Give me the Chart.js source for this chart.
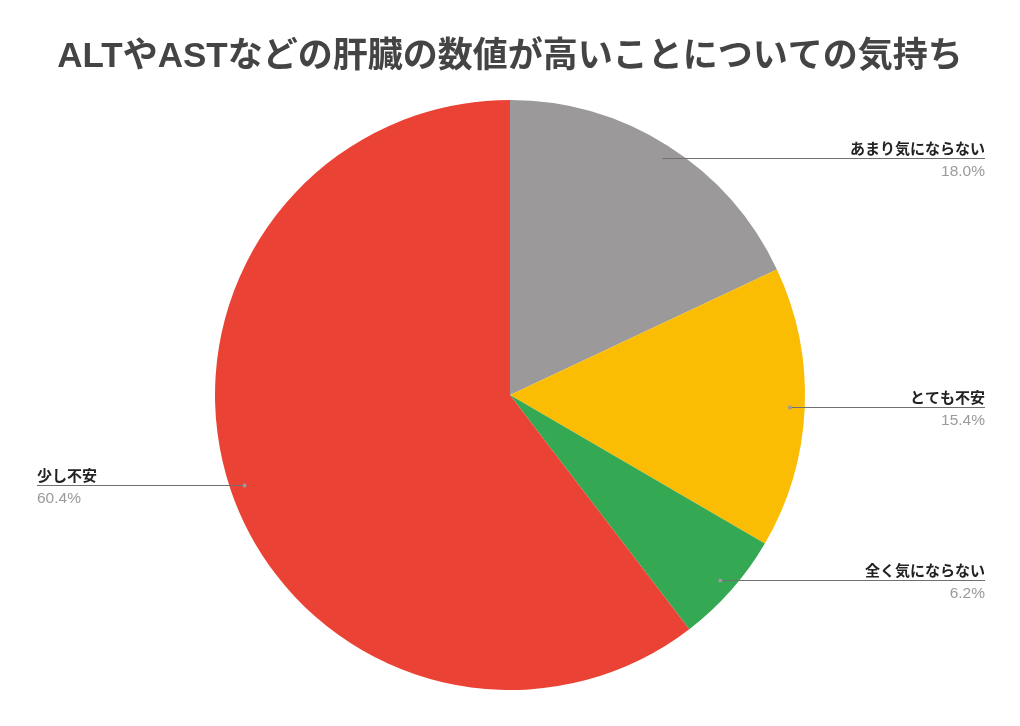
<!DOCTYPE html>
<html><head><meta charset="utf-8">
<script src="https://cdn.jsdelivr.net/npm/chart.js@4"></script>
<style>html,body{margin:0;padding:0;background:#fff;}#wrap{width:1020px;height:726px;}</style>
</head><body><div id="wrap"><canvas id="c" width="1020" height="726"></canvas></div>
<script>
const categories = ["あまり気にならない", "とても不安", "全く気にならない", "少し不安"];
const values = [18.0, 15.4, 6.2, 60.4];
const colors = ["#9b999a", "#fbbc04", "#34a853", "#ea4335"];
const titleText = "ALTやASTなどの肝臓の数値が高いことについての気持ち";
const FONT = '"Liberation Sans", "Noto Sans CJK JP", sans-serif';

const leaderPlugin = {
  id: 'leaders',
  afterDatasetsDraw(chart) {
    const ctx = chart.ctx;
    const meta = chart.getDatasetMeta(0);
    meta.data.forEach((arc, i) => {
      const mid = (arc.startAngle + arc.endAngle) / 2;
      const r = arc.outerRadius * 0.95;
      const ax = arc.x + Math.cos(mid) * r;
      const ay = Math.round(arc.y + Math.sin(mid) * r) + 0.5;
      const right = Math.cos(mid) >= 0;
      const ex = right ? 985 : 37;
      ctx.save();
      ctx.strokeStyle = '#707070';
      ctx.lineWidth = 1;
      ctx.beginPath();
      ctx.moveTo(ax, ay);
      ctx.lineTo(ex, ay);
      ctx.stroke();
      ctx.fillStyle = '#9a9a9a';
      ctx.beginPath();
      ctx.arc(ax, ay, 2, 0, Math.PI * 2);
      ctx.fill();
      ctx.textAlign = right ? 'right' : 'left';
      ctx.textBaseline = 'alphabetic';
      ctx.font = 'bold 15px ' + FONT;
      ctx.fillStyle = '#222222';
      ctx.fillText(categories[i], ex, ay - 5);
      ctx.font = '15.5px ' + FONT;
      ctx.fillStyle = '#9a9a9a';
      ctx.textBaseline = 'top';
      ctx.fillText(values[i].toFixed(1) + '%', ex, ay + 5);
      ctx.restore();
    });
  }
};

new Chart(document.getElementById('c'), {
  type: 'pie',
  data: {
    labels: categories,
    datasets: [{ data: values, backgroundColor: colors, borderWidth: 0 }]
  },
  options: {
    responsive: false,
    animation: false,
    layout: { padding: { top: 0, bottom: 36, left: 0, right: 0 } },
    plugins: {
      legend: { display: false },
      tooltip: { enabled: false },
      title: {
        display: true,
        text: titleText,
        color: '#444444',
        font: { family: FONT, size: 35, weight: 'bold', lineHeight: 1.2 },
        padding: { top: 36, bottom: 22 }
      }
    }
  },
  plugins: [leaderPlugin]
});
</script>
</body></html>
